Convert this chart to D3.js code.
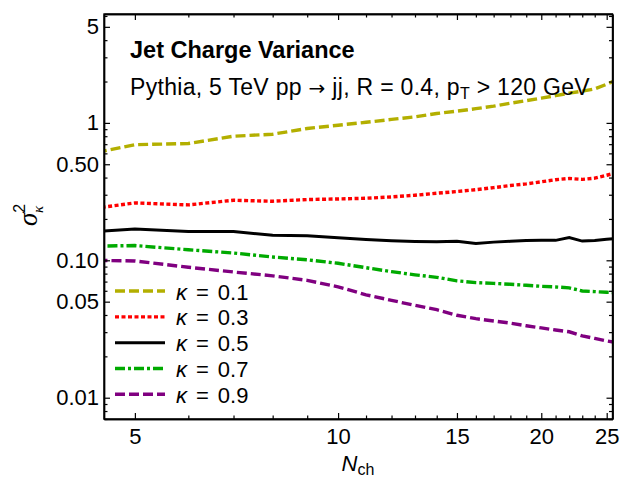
<!DOCTYPE html>
<html>
<head>
<meta charset="utf-8">
<script src="https://cdn.jsdelivr.net/npm/d3@7"></script>
<style>
  body { margin: 0; background: #fff; }
  text { font-family: "Liberation Sans", Arial, sans-serif; fill: #000; }
</style>
</head>
<body>
<script>
// N_ch values and sigma^2 for each kappa
const nch = [4, 5, 6, 7, 8, 9, 10, 11, 12, 13, 14, 15, 16, 17, 18, 19, 20, 21, 22, 23, 24, 25, 26];
const k01 = [0.555, 0.694, 0.708, 0.800, 0.827, 0.910, 0.962, 1.01, 1.06, 1.106, 1.17, 1.217, 1.269, 1.323, 1.391, 1.451, 1.513, 1.578, 1.645, 1.70, 1.77, 1.91, 2.08];
const k03 = [0.226, 0.2615, 0.253, 0.2735, 0.269, 0.2767, 0.2795, 0.2829, 0.2892, 0.2975, 0.3076, 0.3165, 0.3262, 0.338, 0.350, 0.3596, 0.3725, 0.386, 0.394, 0.388, 0.396, 0.416, 0.437];
const k05 = [0.157, 0.169, 0.162, 0.162, 0.152, 0.151, 0.146, 0.1415, 0.1388, 0.137, 0.1363, 0.1375, 0.1323, 0.1356, 0.1375, 0.1391, 0.1397, 0.1397, 0.1463, 0.138, 0.1394, 0.1423, 0.1446];
const k07 = [0.126, 0.128, 0.1193, 0.113, 0.1057, 0.1008, 0.0951, 0.0883, 0.0827, 0.0784, 0.0752, 0.0709, 0.0688, 0.0679, 0.0669, 0.0658, 0.0647, 0.064, 0.063, 0.0598, 0.0592, 0.0585, 0.058];
const k09 = [0.1005, 0.0989, 0.089, 0.0822, 0.0771, 0.0715, 0.0641, 0.0561, 0.0511, 0.047, 0.0437, 0.0398, 0.0376, 0.0362, 0.0349, 0.0334, 0.0322, 0.0311, 0.0302, 0.0282, 0.027, 0.0259, 0.0251];

const seriesNames = ["0.1", "0.3", "0.5", "0.7", "0.9"];
const seriesValues = [k01, k03, k05, k07, k09];
const seriesColors = ["#b3af00", "#ff0000", "#000000", "#00aa00", "#800080"];
const seriesDash = ["10,4", "4,2.5", null, "10,3,3,3", "10,4"];

const xMajor = [5, 10, 15, 20, 25];
const xMinor = [6, 7, 8, 9, 11, 12, 13, 14, 16, 17, 18, 19, 21, 22, 23, 24];
const yMajor = [0.01, 0.05, 0.1, 0.5, 1, 5];
const yMajorLabels = ["0.01", "0.05", "0.10", "0.50", "1", "5"];
const yMinor = [0.007, 0.008, 0.009, 0.02, 0.03, 0.04, 0.06, 0.07, 0.08, 0.09, 0.2, 0.3, 0.4, 0.6, 0.7, 0.8, 0.9, 2, 3, 4, 6];

const width = 629, height = 483;
const m = { left: 104, right: 612.5, top: 14, bottom: 419 };

const x = d3.scaleLog().domain([4.5, 25.5]).range([m.left, m.right]);
const y = d3.scaleLog().domain([0.007, 6.2]).range([m.bottom, m.top]);

const svg = d3.select("body").append("svg")
  .attr("width", width)
  .attr("height", height);

svg.append("defs").append("clipPath").attr("id", "plot")
  .append("rect")
  .attr("x", m.left).attr("y", m.top)
  .attr("width", m.right - m.left).attr("height", m.bottom - m.top);

// curves
const line = d3.line()
  .x((d, i) => x(nch[i]))
  .y(d => y(d));

const curves = svg.append("g").attr("clip-path", "url(#plot)");
seriesValues.forEach((vals, i) => {
  curves.append("path")
    .datum(vals)
    .attr("d", line)
    .attr("fill", "none")
    .attr("stroke", seriesColors[i])
    .attr("stroke-width", i == 2 ? 3 : 3.4)
    .attr("stroke-dasharray", seriesDash[i]);
});

// axes: ticks point inward on all four sides
function styleAxis(g) {
  g.select(".domain").attr("stroke-width", 1.4);
  g.selectAll(".tick line").attr("stroke-width", 1.2);
  g.selectAll("text").attr("font-size", 22).attr("font-family", "Liberation Sans, Arial, sans-serif");
}

const fmtX = d => d3.format("d")(d);

svg.append("g").attr("transform", `translate(0,${m.bottom})`)
  .call(d3.axisBottom(x).tickValues(xMajor).tickFormat(fmtX).tickSize(-6).tickPadding(9).tickSizeOuter(0))
  .call(styleAxis);
svg.append("g").attr("transform", `translate(0,${m.bottom})`)
  .call(d3.axisBottom(x).tickValues(xMinor).tickFormat("").tickSize(-3.5).tickSizeOuter(0))
  .call(styleAxis);
svg.append("g").attr("transform", `translate(0,${m.top})`)
  .call(d3.axisTop(x).tickValues(xMajor).tickFormat("").tickSize(-6).tickSizeOuter(0))
  .call(styleAxis);
svg.append("g").attr("transform", `translate(0,${m.top})`)
  .call(d3.axisTop(x).tickValues(xMinor).tickFormat("").tickSize(-3.5).tickSizeOuter(0))
  .call(styleAxis);

svg.append("g").attr("transform", `translate(${m.left},0)`)
  .call(d3.axisLeft(y).tickValues(yMajor).tickFormat((d, i) => yMajorLabels[i]).tickSize(-6).tickPadding(5).tickSizeOuter(0))
  .call(styleAxis);
svg.append("g").attr("transform", `translate(${m.left},0)`)
  .call(d3.axisLeft(y).tickValues(yMinor).tickFormat("").tickSize(-3.5).tickSizeOuter(0))
  .call(styleAxis);
svg.append("g").attr("transform", `translate(${m.right},0)`)
  .call(d3.axisRight(y).tickValues(yMajor).tickFormat("").tickSize(-6).tickSizeOuter(0))
  .call(styleAxis);
svg.append("g").attr("transform", `translate(${m.right},0)`)
  .call(d3.axisRight(y).tickValues(yMinor).tickFormat("").tickSize(-3.5).tickSizeOuter(0))
  .call(styleAxis);

// frame
svg.append("rect")
  .attr("x", m.left).attr("y", m.top)
  .attr("width", m.right - m.left).attr("height", m.bottom - m.top)
  .attr("fill", "none").attr("stroke", "#000").attr("stroke-width", 1.4);

// titles
svg.append("text")
  .attr("x", 130).attr("y", 58)
  .attr("font-size", 23.5).attr("font-weight", "bold")
  .text("Jet Charge Variance");

const sub = svg.append("text")
  .attr("x", 130).attr("y", 95)
  .attr("font-size", 23)
  .attr("letter-spacing", 0.3);
sub.append("tspan").text("Pythia, 5 TeV pp ");
sub.append("tspan").attr("font-family", "DejaVu Sans, sans-serif").attr("font-size", 20).text("\u2192");
sub.append("tspan").text(" jj, R = 0.4, p");
sub.append("tspan").attr("font-size", 16).attr("dy", 4).text("T");
sub.append("tspan").attr("dy", -4).text(" > 120 GeV");

// axis labels
const xl = svg.append("text")
  .attr("x", 358).attr("y", 471)
  .attr("text-anchor", "middle")
  .attr("font-size", 22);
xl.append("tspan").attr("font-style", "italic").text("N");
xl.append("tspan").attr("font-size", 16).attr("dy", 4).text("ch");

const yl = svg.append("text")
  .attr("transform", "translate(37,215) rotate(-90)")
  .attr("text-anchor", "middle")
  .attr("font-size", 27);
yl.append("tspan").attr("font-style", "italic").attr("font-family", "Liberation Serif, serif").text("\u03C3");
yl.append("tspan").attr("font-size", 16).attr("dy", -12).text("2");
yl.append("tspan").attr("font-size", 15).attr("font-style", "italic").attr("font-family", "Liberation Serif, serif")
  .attr("dx", -9).attr("dy", 18).text("\u03BA");

// legend
const legendY = d3.scalePoint().domain(seriesNames).range([291, 394.3]);
const legend = svg.append("g");
seriesNames.forEach((name, i) => {
  const ly = legendY(name);
  legend.append("line")
    .attr("x1", 115).attr("x2", 165)
    .attr("y1", ly).attr("y2", ly)
    .attr("stroke", seriesColors[i])
    .attr("stroke-width", i == 2 ? 3 : 3.4)
    .attr("stroke-dasharray", seriesDash[i]);
  const t = legend.append("text")
    .attr("x", 176).attr("y", ly + 8.5)
    .attr("font-size", 22);
  t.append("tspan").attr("font-style", "italic").text("\u03BA");
  t.append("tspan").attr("dx", 9).text("=");
  t.append("tspan").attr("dx", 9).text(name);
});
</script>
</body>
</html>
